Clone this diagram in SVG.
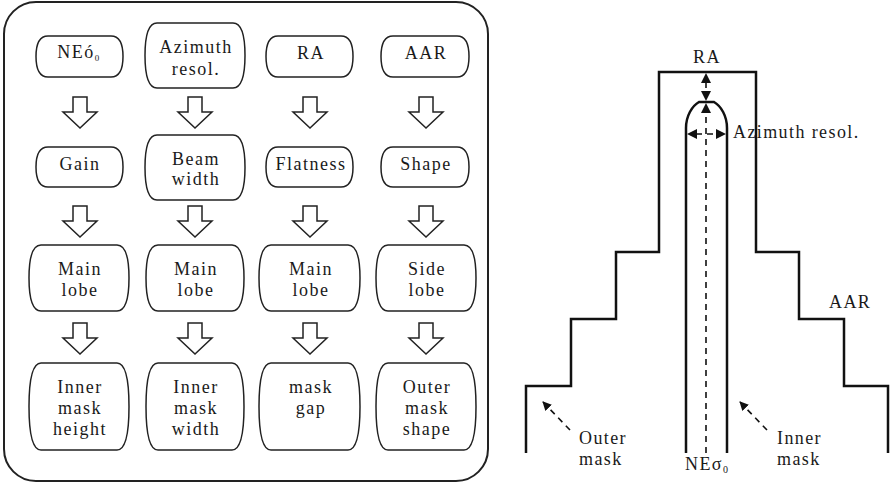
<svg xmlns="http://www.w3.org/2000/svg" width="890" height="487" viewBox="0 0 890 487">
<style>
.box{fill:#fff;stroke:#222;stroke-width:1.5}
.t{font-family:'Liberation Serif','Times New Roman',serif;font-size:18px;letter-spacing:1.5px;fill:#1a1a1a;text-anchor:middle}
.tl{font-family:'Liberation Serif','Times New Roman',serif;font-size:18px;letter-spacing:1.4px;fill:#1a1a1a}
.ba{fill:#fff;stroke:#222;stroke-width:1.5;stroke-linejoin:miter}
.ln{fill:none;stroke:#111;stroke-width:2.5}
.dash{fill:none;stroke:#111;stroke-width:1.6;stroke-dasharray:6 5}
</style>
<defs>
<marker id="ah" viewBox="0 0 10 10" refX="9" refY="5" markerWidth="9" markerHeight="9" markerUnits="userSpaceOnUse" orient="auto">
<path d="M0,0 L10,5 L0,10 z" fill="#111"/>
</marker>
<path id="blk" d="M-7,0 H7 V15 H17 L0,31 L-17,15 H-7 Z"/>
</defs>
<rect x="4" y="2" width="484" height="479" rx="32" fill="#fff" stroke="#222" stroke-width="2"/>

<g id="n_neo"><path class="box" d="M48,36 h63 c10,0 12,10.25 12,20.5 s-2,20.5 -12,20.5 h-63 c-10,0 -12,-10.25 -12,-20.5 s2,-20.5 12,-20.5z"/><text class="t" x="79" y="58">NEó<tspan font-size="9" dy="3">0</tspan></text></g>
<g id="n_az"><path class="box" d="M157,23 h76 c10,0 12,16.25 12,32.5 s-2,32.5 -12,32.5 h-76 c-10,0 -12,-16.25 -12,-32.5 s2,-32.5 12,-32.5z"/><text class="t" x="196" y="53">Azimuth</text><text class="t" x="196" y="75">resol.</text></g>
<g id="n_ra"><path class="box" d="M278,36 h63 c10,0 12,10.25 12,20.5 s-2,20.5 -12,20.5 h-63 c-10,0 -12,-10.25 -12,-20.5 s2,-20.5 12,-20.5z"/><text class="t" x="311" y="59">RA</text></g>
<g id="n_aar"><path class="box" d="M393,36 h64 c10,0 12,10.25 12,20.5 s-2,20.5 -12,20.5 h-64 c-10,0 -12,-10.25 -12,-20.5 s2,-20.5 12,-20.5z"/><text class="t" x="426" y="59">AAR</text></g>

<g id="n_gain"><path class="box" d="M48,147 h63 c10,0 12,10 12,20 s-2,20 -12,20 h-63 c-10,0 -12,-10 -12,-20 s2,-20 12,-20z"/><text class="t" x="80" y="170">Gain</text></g>
<g id="n_beam"><path class="box" d="M157,135 h76 c10,0 12,16.25 12,32.5 s-2,32.5 -12,32.5 h-76 c-10,0 -12,-16.25 -12,-32.5 s2,-32.5 12,-32.5z"/><text class="t" x="196" y="165">Beam</text><text class="t" x="196" y="185">width</text></g>
<g id="n_flat"><path class="box" d="M278,147 h63 c10,0 12,10 12,20 s-2,20 -12,20 h-63 c-10,0 -12,-10 -12,-20 s2,-20 12,-20z"/><text class="t" x="311" y="170">Flatness</text></g>
<g id="n_shape"><path class="box" d="M393,147 h64 c10,0 12,10 12,20 s-2,20 -12,20 h-64 c-10,0 -12,-10 -12,-20 s2,-20 12,-20z"/><text class="t" x="426" y="170">Shape</text></g>

<g id="n_ml1"><path class="box" d="M41,245 h76 c10,0 12,16.5 12,33 s-2,33 -12,33 h-76 c-10,0 -12,-16.5 -12,-33 s2,-33 12,-33z"/><text class="t" x="80" y="275">Main</text><text class="t" x="80" y="296">lobe</text></g>
<g id="n_ml2"><path class="box" d="M158,245 h74 c10,0 12,16.5 12,33 s-2,33 -12,33 h-74 c-10,0 -12,-16.5 -12,-33 s2,-33 12,-33z"/><text class="t" x="196" y="275">Main</text><text class="t" x="196" y="296">lobe</text></g>
<g id="n_ml3"><path class="box" d="M271,245 h77 c10,0 12,16.5 12,33 s-2,33 -12,33 h-77 c-10,0 -12,-16.5 -12,-33 s2,-33 12,-33z"/><text class="t" x="311" y="275">Main</text><text class="t" x="311" y="296">lobe</text></g>
<g id="n_sl"><path class="box" d="M388,245 h76 c10,0 12,16.5 12,33 s-2,33 -12,33 h-76 c-10,0 -12,-16.5 -12,-33 s2,-33 12,-33z"/><text class="t" x="427" y="275">Side</text><text class="t" x="427" y="296">lobe</text></g>

<g id="n_imh"><path class="box" d="M41,363 h76 c10,0 12,21.75 12,43.5 s-2,43.5 -12,43.5 h-76 c-10,0 -12,-21.75 -12,-43.5 s2,-43.5 12,-43.5z"/><text class="t" x="80" y="393">Inner</text><text class="t" x="80" y="414">mask</text><text class="t" x="80" y="435">height</text></g>
<g id="n_imw"><path class="box" d="M158,363 h74 c10,0 12,21.75 12,43.5 s-2,43.5 -12,43.5 h-74 c-10,0 -12,-21.75 -12,-43.5 s2,-43.5 12,-43.5z"/><text class="t" x="196" y="393">Inner</text><text class="t" x="196" y="414">mask</text><text class="t" x="196" y="435">width</text></g>
<g id="n_mg"><path class="box" d="M271,363 h77 c10,0 12,21.75 12,43.5 s-2,43.5 -12,43.5 h-77 c-10,0 -12,-21.75 -12,-43.5 s2,-43.5 12,-43.5z"/><text class="t" x="311" y="393">mask</text><text class="t" x="311" y="414">gap</text></g>
<g id="n_oms"><path class="box" d="M388,363 h76 c10,0 12,21.75 12,43.5 s-2,43.5 -12,43.5 h-76 c-10,0 -12,-21.75 -12,-43.5 s2,-43.5 12,-43.5z"/><text class="t" x="427" y="393">Outer</text><text class="t" x="427" y="414">mask</text><text class="t" x="427" y="435">shape</text></g>

<g id="connectors">
<use href="#blk" class="ba" x="80" y="97"/>
<use href="#blk" class="ba" x="195" y="97"/>
<use href="#blk" class="ba" x="310" y="97"/>
<use href="#blk" class="ba" x="426" y="97"/>
<use href="#blk" class="ba" x="80" y="206"/>
<use href="#blk" class="ba" x="195" y="206"/>
<use href="#blk" class="ba" x="310" y="206"/>
<use href="#blk" class="ba" x="426" y="206"/>
<use href="#blk" class="ba" x="80" y="323"/>
<use href="#blk" class="ba" x="195" y="323"/>
<use href="#blk" class="ba" x="310" y="323"/>
<use href="#blk" class="ba" x="426" y="323"/>
</g>

<g id="mask_diagram">
<path class="ln" d="M526,453 V386 H571 V319 H616 V252 H659 V72 H756 V252 H799 V319 H844 V386 H888 V453"/>
<path class="ln" d="M686,453 V128 C686,116 692,106 699,102 H714 C721,106 727,116 727,128 V453"/>
<path class="dash" d="M706,453 V112"/>
<path d="M706,103 L701,113 L711,113 Z" fill="#111"/>
<path class="dash" d="M706,82 V92" stroke-dasharray="4 3"/>
<path d="M706,73 L701,83 L711,83 Z" fill="#111"/>
<path d="M706,101 L701,91 L711,91 Z" fill="#111"/>
<path class="dash" d="M696,134 H717" stroke-dasharray="5 4"/>
<path d="M687,134 L697,129 L697,139 Z" fill="#111"/>
<path d="M726,134 L716,129 L716,139 Z" fill="#111"/>
<path class="dash" d="M570,430 L543,402" marker-end="url(#ah)" stroke-dasharray="5 5"/>
<path class="dash" d="M767,430 L740,402" marker-end="url(#ah)" stroke-dasharray="5 5"/>
<text class="tl" x="693" y="63">RA</text>
<text class="tl" x="733" y="138">Azimuth resol.</text>
<text class="tl" x="829" y="308">AAR</text>
<text class="tl" x="579" y="444">Outer</text>
<text class="tl" x="579" y="465">mask</text>
<text class="tl" x="777" y="444">Inner</text>
<text class="tl" x="777" y="465">mask</text>
<text class="tl" x="685" y="470">NEσ<tspan font-size="10" dy="3">0</tspan></text>
</g>
</svg>
